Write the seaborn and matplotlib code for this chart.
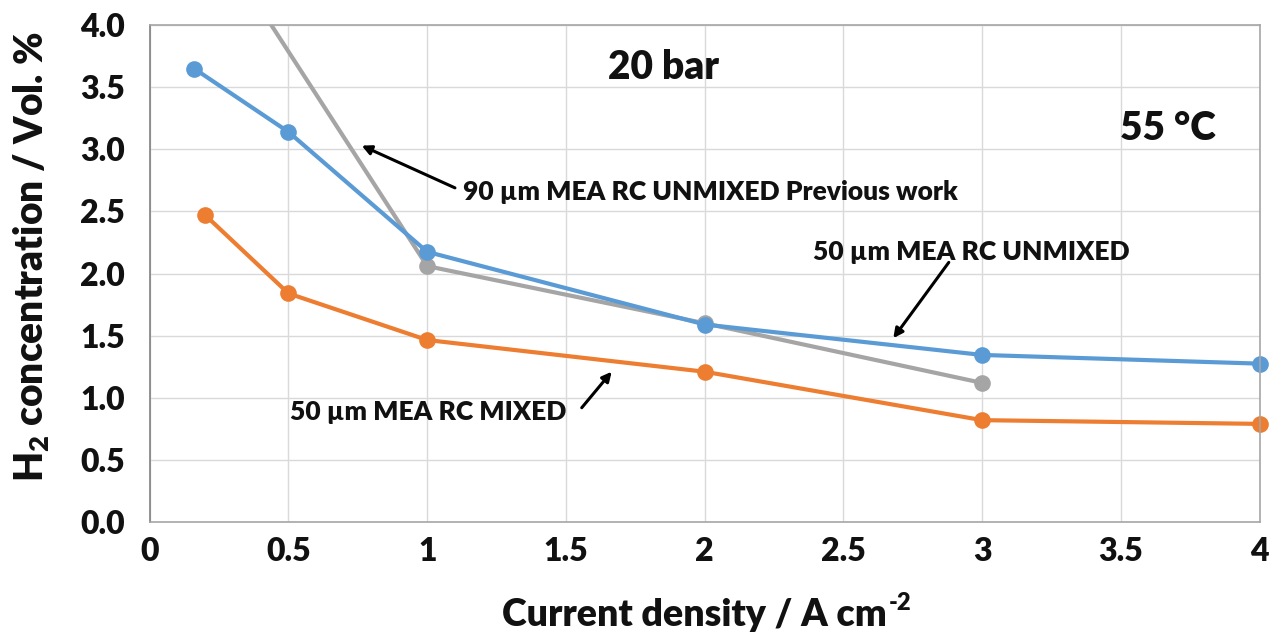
import matplotlib
matplotlib.use("Agg")
import matplotlib.pyplot as plt
import matplotlib.colors as mcolors
import seaborn as sns
import pandas as pd

# Measured H2 concentration in the anode gas vs. current density (20 bar, 55 °C)
mixed_x = [0.2, 0.5, 1, 2, 3, 4]
mixed_y = [2.47, 1.84, 1.465, 1.21, 0.82, 0.79]

unmixed_x = [0.16, 0.5, 1, 2, 3, 4]
unmixed_y = [3.65, 3.14, 2.175, 1.59, 1.345, 1.275]

previous_x = [0.25, 1, 2, 3]
previous_y = [4.65, 2.06, 1.60, 1.12]

series_names = ["50 µm MEA RC UNMIXED", "50 µm MEA RC MIXED",
                "90 µm MEA RC UNMIXED Previous work"]
x_ticks = [0, 0.5, 1, 1.5, 2, 2.5, 3, 3.5, 4]
x_tick_labels = ["0", "0.5", "1", "1.5", "2", "2.5", "3", "3.5", "4"]
y_ticks = [0.0, 0.5, 1.0, 1.5, 2.0, 2.5, 3.0, 3.5, 4.0]
y_tick_labels = ["0.0", "0.5", "1.0", "1.5", "2.0", "2.5", "3.0", "3.5", "4.0"]

df = pd.concat([
    pd.DataFrame({"j": unmixed_x, "h2": unmixed_y, "series": series_names[0]}),
    pd.DataFrame({"j": mixed_x, "h2": mixed_y, "series": series_names[1]}),
    pd.DataFrame({"j": previous_x, "h2": previous_y, "series": series_names[2]}),
], ignore_index=True)

BLUE, ORANGE, GREY = "#5B9BD5", "#ED7D31", "#A5A5A5"
palette = {series_names[0]: BLUE, series_names[1]: ORANGE, series_names[2]: GREY}
W = "heavy"
INK = "#111111"

sns.set_theme(style="white")
plt.rcParams["font.family"] = ["Lato", "DejaVu Sans"]
plt.rcParams["font.weight"] = W
plt.rcParams["text.color"] = INK
plt.rcParams["xtick.labelcolor"] = INK
plt.rcParams["ytick.labelcolor"] = INK
plt.rcParams["mathtext.fontset"] = "custom"
plt.rcParams["mathtext.rm"] = "Lato:heavy"
plt.rcParams["mathtext.bf"] = "Lato:heavy"
plt.rcParams["mathtext.default"] = "rm"

fig = plt.figure(figsize=(12.8, 6.44), dpi=100)
ax = fig.add_axes([0.117, 0.1894, 0.867, 0.7716])

sns.lineplot(data=df, x="j", y="h2", hue="series", palette=palette,
             hue_order=[series_names[2], series_names[1], series_names[0]],
             marker="o", markersize=12, markeredgewidth=0, linewidth=3,
             sort=False, legend=False, ax=ax)

# let the end markers overhang the frame for the series that stay inside it
for line in ax.get_lines():
    if mcolors.to_hex(line.get_color()).upper() != GREY:
        line.set_clip_on(False)

ax.set_xlim(0, 4)
ax.set_ylim(0, 4)
ax.set_xticks(x_ticks)
ax.set_xticklabels(x_tick_labels)
ax.set_yticks(y_ticks)
ax.set_yticklabels(y_tick_labels)
ax.tick_params(axis="both", labelsize=23, length=0, labelcolor=INK)
ax.tick_params(axis="x", pad=11)
ax.tick_params(axis="y", pad=18)
for lbl in ax.get_xticklabels() + ax.get_yticklabels():
    lbl.set_fontweight(W)

ax.grid(True, color="#D9D9D9", linewidth=1)
ax.set_axisbelow(True)
for side in ["top", "right", "bottom"]:
    ax.spines[side].set_color("#A6A6A6")
    ax.spines[side].set_linewidth(1.2)
ax.spines["left"].set_color("#808080")
ax.spines["left"].set_linewidth(1.2)
ax.set_xlabel("")
ax.set_ylabel("")

# axis titles
fig.text(32 / 1280, 1 - 257 / 644, "H$_2$ concentration / Vol. %",
         rotation=90, fontsize=28, fontweight=W, ha="center", va="center")

xl_main = fig.text(0, 1 - 615 / 644, "Current density / A cm", fontsize=27,
                   fontweight=W, ha="left", va="center")
xl_sup = fig.text(0, 1 - 603 / 644, "-2", fontsize=17, fontweight=W,
                  ha="left", va="center")
fig.canvas.draw()
renderer = fig.canvas.get_renderer()
w_main = xl_main.get_window_extent(renderer).width
w_sup = xl_sup.get_window_extent(renderer).width
x_start = 707 - (w_main + w_sup + 2) / 2
xl_main.set_x(x_start / 1280)
xl_sup.set_x((x_start + w_main + 2) / 1280)

# condition labels
ax.text(1.85, 3.66, "20 bar", fontsize=28, fontweight=W,
        ha="center", va="center")
ax.text(3.67, 3.17, "55 °C", fontsize=28, fontweight=W,
        ha="center", va="center")

# series annotations with arrows
arrow = dict(arrowstyle="-|>", color="black", lw=2.2, mutation_scale=14,
             shrinkA=0, shrinkB=0)
ax.text(1.128, 2.66, series_names[2], fontsize=19, fontweight=W,
        ha="left", va="center")
ax.annotate("", xy=(0.764, 3.03), xytext=(1.10, 2.69), arrowprops=arrow)

ax.text(2.96, 2.17, series_names[0], fontsize=19, fontweight=W,
        ha="center", va="center")
ax.annotate("", xy=(2.68, 1.48), xytext=(2.88, 2.09), arrowprops=arrow)

ax.text(1.503, 0.885, series_names[1], fontsize=19, fontweight=W,
        ha="right", va="center")
ax.annotate("", xy=(1.665, 1.21), xytext=(1.557, 0.92), arrowprops=arrow)

fig.savefig("out.png", dpi=100)
